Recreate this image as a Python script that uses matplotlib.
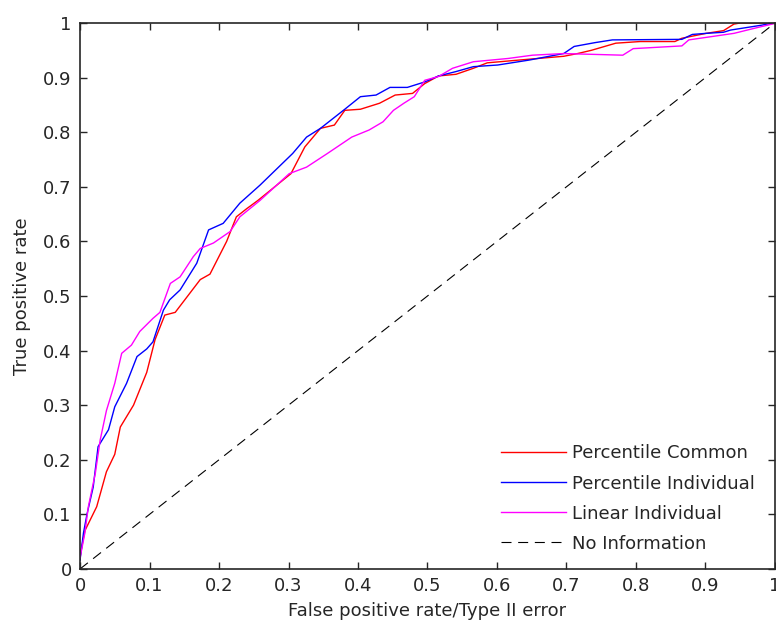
import numpy as np
import matplotlib
matplotlib.use('Agg')
import matplotlib.pyplot as plt

# ROC curves
pc_fpr = [0.0, 0.001, 0.007, 0.024, 0.038, 0.05, 0.058, 0.077, 0.096, 0.108, 0.122, 0.137,
          0.149, 0.173, 0.187, 0.211, 0.225, 0.24, 0.256, 0.3035, 0.3235, 0.346, 0.366,
          0.381, 0.4035, 0.431, 0.4535, 0.4785, 0.496, 0.516, 0.541, 0.566, 0.586, 0.631,
          0.696, 0.716, 0.736, 0.771, 0.806, 0.856, 0.866, 0.901, 0.926, 0.941, 0.95, 1.0]
pc_tpr = [0.02, 0.03, 0.07, 0.114, 0.178, 0.21, 0.26, 0.30, 0.36, 0.42, 0.465, 0.47,
          0.49, 0.53, 0.54, 0.60, 0.645, 0.66, 0.675, 0.724, 0.773, 0.807, 0.813,
          0.84, 0.842, 0.853, 0.868, 0.871, 0.889, 0.903, 0.906, 0.917, 0.927, 0.932,
          0.939, 0.944, 0.95, 0.963, 0.966, 0.966, 0.972, 0.981, 0.986, 0.998, 1.0, 1.0]

pi_fpr = [0.0, 0.005, 0.01, 0.019, 0.026, 0.041, 0.05, 0.067, 0.082, 0.096, 0.105, 0.12,
          0.129, 0.144, 0.168, 0.185, 0.206, 0.23, 0.259, 0.276, 0.306, 0.326, 0.346,
          0.381, 0.4035, 0.426, 0.446, 0.471, 0.496, 0.516, 0.541, 0.566, 0.601, 0.646,
          0.696, 0.711, 0.741, 0.766, 0.866, 0.881, 0.901, 0.926, 0.936, 0.981, 0.996, 1.0]
pi_tpr = [0.016, 0.066, 0.10, 0.15, 0.224, 0.255, 0.297, 0.34, 0.389, 0.403, 0.416, 0.474,
          0.493, 0.511, 0.56, 0.621, 0.633, 0.67, 0.703, 0.724, 0.761, 0.791, 0.807,
          0.842, 0.865, 0.868, 0.882, 0.882, 0.892, 0.903, 0.911, 0.92, 0.923, 0.932,
          0.944, 0.957, 0.964, 0.969, 0.97, 0.979, 0.981, 0.983, 0.987, 0.996, 1.0, 1.0]

li_fpr = [0.0, 0.007, 0.012, 0.022, 0.029, 0.038, 0.05, 0.06, 0.074, 0.086, 0.105, 0.115,
          0.13, 0.144, 0.163, 0.173, 0.192, 0.216, 0.23, 0.259, 0.301, 0.326, 0.356,
          0.391, 0.416, 0.436, 0.451, 0.466, 0.481, 0.496, 0.516, 0.536, 0.566, 0.616,
          0.651, 0.696, 0.781, 0.796, 0.866, 0.876, 0.941, 0.976, 0.996, 1.0]
li_tpr = [0.02, 0.066, 0.114, 0.175, 0.236, 0.29, 0.34, 0.395, 0.41, 0.435, 0.459, 0.47,
          0.523, 0.535, 0.572, 0.587, 0.597, 0.618, 0.645, 0.675, 0.724, 0.736, 0.761,
          0.791, 0.804, 0.819, 0.84, 0.853, 0.865, 0.895, 0.902, 0.917, 0.929, 0.935,
          0.941, 0.944, 0.941, 0.953, 0.958, 0.969, 0.981, 0.992, 0.998, 1.0]

diag = [0.0, 1.0]

labels = ['Percentile Common', 'Percentile Individual', 'Linear Individual', 'No Information']
ticks = np.round(np.arange(0, 1.01, 0.1), 1)
tick_labels = ['0', '0.1', '0.2', '0.3', '0.4', '0.5', '0.6', '0.7', '0.8', '0.9', '1']

plt.rcParams['font.family'] = ['DejaVu Sans']

fig = plt.figure(figsize=(7.76, 6.26), dpi=100)
ax = fig.add_axes([0.1031, 0.0911, 0.8956, 0.8722])

ax.plot(pc_fpr, pc_tpr, color='#ff0000', lw=1.0, label=labels[0])
ax.plot(pi_fpr, pi_tpr, color='#0000ff', lw=1.0, label=labels[1])
ax.plot(li_fpr, li_tpr, color='#ff00ff', lw=1.0, label=labels[2])
ax.plot(diag, diag, color='black', lw=0.8, dashes=(9, 6), label=labels[3])

ax.set_xlim(0, 1)
ax.set_ylim(0, 1)
ax.set_xticks(ticks)
ax.set_xticklabels(tick_labels)
ax.set_yticks(ticks)
ax.set_yticklabels(tick_labels)
ax.tick_params(direction='in', top=True, right=True, length=5, width=1,
               labelsize=13, colors='#262626', pad=6)
for s in ax.spines.values():
    s.set_color('#262626')
    s.set_linewidth(1.2)

ax.set_xlabel('False positive rate/Type II error', fontsize=13, color='#262626', labelpad=5)
ax.set_ylabel('True positive rate', fontsize=13, color='#262626', labelpad=9)

leg = ax.legend(loc='lower right', frameon=False, fontsize=13, handlelength=3.6,
                handletextpad=0.35, labelspacing=0.67, bbox_to_anchor=(0.995, 0.0))
for t in leg.get_texts():
    t.set_color('#262626')

fig.savefig('out.png', dpi=100)
